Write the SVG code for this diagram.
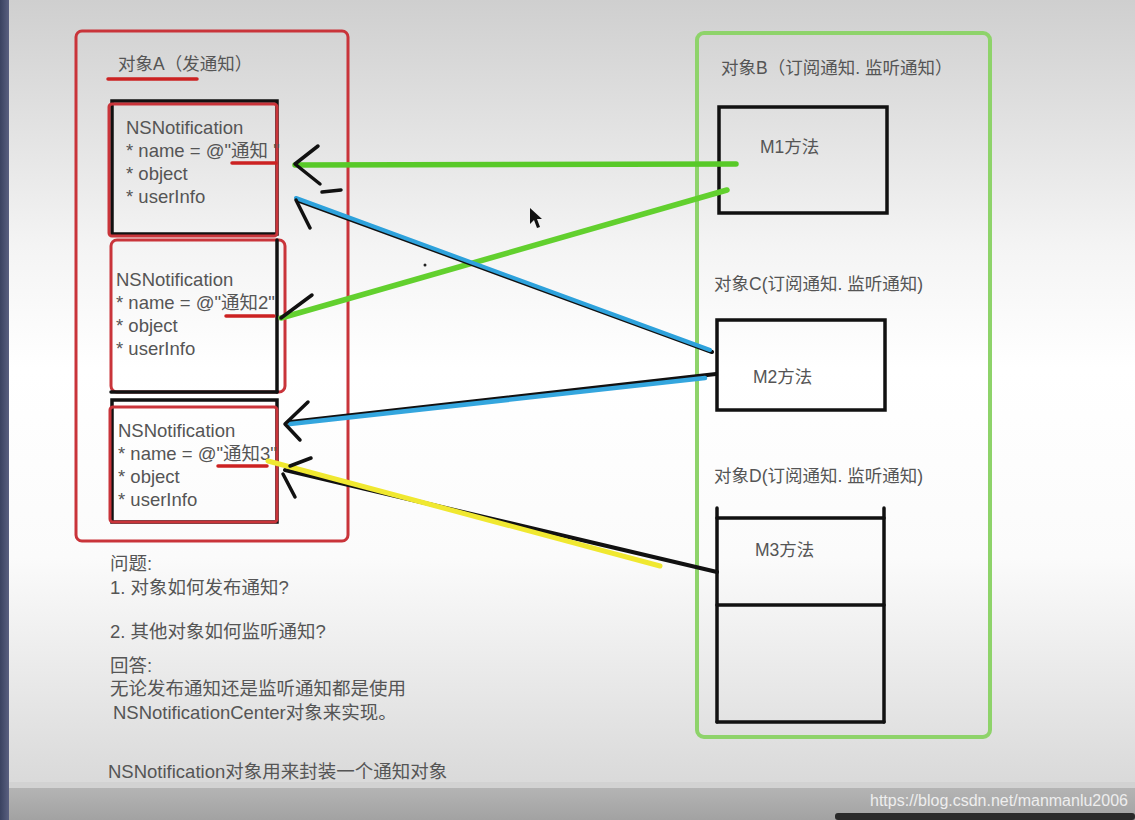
<svg xmlns="http://www.w3.org/2000/svg" width="1135" height="820" viewBox="0 0 1135 820">
<defs>
<linearGradient id="bg" x1="0" y1="0" x2="0" y2="1">
<stop offset="0" stop-color="#cfcfcf"/>
<stop offset="0.3" stop-color="#f4f4f4"/>
<stop offset="0.45" stop-color="#ffffff"/>
<stop offset="0.68" stop-color="#fbfbfb"/>
<stop offset="1" stop-color="#d4d4d4"/>
</linearGradient>
<linearGradient id="bar" x1="0" y1="0" x2="0" y2="1">
<stop offset="0" stop-color="#b4b4b4"/>
<stop offset="1" stop-color="#a2a2a2"/>
</linearGradient>
<linearGradient id="edge" x1="0" y1="0" x2="1" y2="0">
<stop offset="0" stop-color="#3a4260"/>
<stop offset="1" stop-color="#5a6080"/>
</linearGradient>
</defs>
<style>
.t{font-family:"Liberation Sans","Noto Sans CJK SC",sans-serif;fill:#555555;font-size:18.5px}
.tt{font-family:"Liberation Sans","Noto Sans CJK SC",sans-serif;fill:#555555;font-size:17.5px}
.red{fill:none;stroke:#c9343a;stroke-width:3}
.blk{fill:none;stroke:#111;stroke-width:3.5;stroke-linecap:round}
.ul{stroke:#cc2222;stroke-width:3.5;stroke-linecap:round}
.head{fill:none;stroke:#111;stroke-width:3.5;stroke-linecap:round;stroke-linejoin:round}
</style>
<rect x="0" y="0" width="1135" height="820" fill="url(#bg)"/>
<rect x="0" y="0" width="9" height="820" fill="url(#edge)"/>

<g id="objectA">
<rect x="76" y="31" width="272" height="510" rx="6" class="red"/>
<text class="tt" x="118" y="70">对象A（发通知）</text>
<line x1="108" y1="79" x2="197" y2="79" class="ul" stroke-width="4"/>
</g>

<g id="notification1">
<rect x="112" y="101" width="165" height="133" class="blk" stroke-linecap="butt"/>
<rect x="109" y="104" width="168" height="132" rx="3" class="red" stroke-width="2"/>
<text class="t" x="126" y="134">NSNotification</text>
<text class="t" x="126" y="157">* name = @"通知 "</text>
<text class="t" x="126" y="180">* object</text>
<text class="t" x="126" y="203">* userInfo</text>
<line x1="232" y1="163" x2="276" y2="163" class="ul"/>
</g>

<g id="notification2">
<rect x="111" y="240" width="174" height="152" rx="6" class="red" stroke-width="2.5"/>
<line x1="277" y1="240" x2="277" y2="392" class="blk" stroke-linecap="butt"/>
<line x1="111" y1="392" x2="277" y2="392" class="blk" stroke-width="2" stroke-linecap="butt"/>
<text class="t" x="116" y="286">NSNotification</text>
<text class="t" x="116" y="309">* name = @"通知2"</text>
<text class="t" x="116" y="332">* object</text>
<text class="t" x="116" y="355">* userInfo</text>
<line x1="226" y1="316" x2="274" y2="316" class="ul"/>
</g>

<g id="notification3">
<rect x="112" y="400" width="165" height="122" class="blk" stroke-linecap="butt"/>
<rect x="110" y="407" width="167" height="115" rx="3" class="red" stroke-width="2"/>
<text class="t" x="118" y="437">NSNotification</text>
<text class="t" x="118" y="460">* name = @"通知3"</text>
<text class="t" x="118" y="483">* object</text>
<text class="t" x="118" y="506">* userInfo</text>
<line x1="218" y1="466" x2="267" y2="466" class="ul"/>
</g>

<g id="objectB">
<rect x="697" y="33" width="293" height="704" rx="7" fill="none" stroke="#8ed36a" stroke-width="4"/>
<text class="tt" x="721" y="74" font-size="18">对象B（订阅通知. 监听通知）</text>
</g>

<g id="m1">
<rect x="719" y="107" width="168" height="106" class="blk" stroke-width="3"/>
<text class="tt" x="760" y="153">M1方法</text>
</g>

<g id="objectC">
<text class="tt" x="714" y="290" font-size="18">对象C(订阅通知. 监听通知)</text>
</g>

<g id="m2">
<rect x="717" y="320" width="168" height="90" class="blk" stroke-width="3"/>
<text class="tt" x="753" y="383">M2方法</text>
</g>

<g id="objectD">
<text class="tt" x="714" y="482" font-size="18">对象D(订阅通知. 监听通知)</text>
</g>

<g id="m3">
<line x1="717" y1="508" x2="717" y2="722" class="blk" stroke-width="3"/>
<line x1="884" y1="508" x2="884" y2="722" class="blk" stroke-width="3"/>
<line x1="717" y1="518" x2="884" y2="518" class="blk" stroke-width="3"/>
<line x1="717" y1="605" x2="884" y2="605" class="blk" stroke-width="3"/>
<line x1="717" y1="722" x2="884" y2="722" class="blk" stroke-width="3"/>
<text class="tt" x="755" y="556">M3方法</text>
</g>

<g id="connectors">
<line x1="736" y1="164" x2="295" y2="165" stroke="#58c928" stroke-width="5.5" stroke-linecap="round"/>
<polyline points="318,146 295,164 320,184" class="head"/>
<line x1="727" y1="190" x2="281" y2="318" stroke="#62d02e" stroke-width="5.5" stroke-linecap="round"/>
<polyline points="312,295 281,318" class="head"/>
<line x1="712" y1="352" x2="297" y2="200" stroke="#111" stroke-width="4" stroke-linecap="round"/>
<line x1="710" y1="350" x2="296" y2="198" stroke="#2ea2dc" stroke-width="4" stroke-linecap="round"/>
<polyline points="341,190 322,192" class="head"/>
<polyline points="296,200 310,228" class="head"/>
<line x1="716" y1="374" x2="290" y2="422" stroke="#111" stroke-width="4" stroke-linecap="round"/>
<line x1="705" y1="378" x2="290" y2="424" stroke="#34a6de" stroke-width="4.5" stroke-linecap="round"/>
<polyline points="308,402 285,424 300,440" class="head"/>
<line x1="717" y1="572" x2="285" y2="470" stroke="#111" stroke-width="4" stroke-linecap="round"/>
<line x1="660" y1="566" x2="268" y2="461" stroke="#f0e830" stroke-width="5" stroke-linecap="round"/>
<polyline points="311,458 290,466" class="head"/>
<polyline points="283,474 295,497" class="head"/>
</g>

<g id="cursor">
<polygon points="530,208 530,224 534,220 537,228 540,227 537,219 542,219" fill="#111"/>
<circle cx="425" cy="265" r="1.5" fill="#222"/>
</g>

<g id="notes">
<text class="t" x="110" y="570" font-size="16">问题:</text>
<text class="t" x="110" y="594" font-size="16">1. 对象如何发布通知?</text>
<text class="t" x="110" y="638" font-size="16">2. 其他对象如何监听通知?</text>
<text class="t" x="110" y="672" font-size="16">回答:</text>
<text class="t" x="110" y="695" font-size="18">无论发布通知还是监听通知都是使用</text>
<text class="t" x="113" y="719" font-size="18">NSNotificationCenter对象来实现。</text>
<text class="t" x="108" y="778">NSNotification对象用来封装一个通知对象</text>
</g>

<g id="footer">
<rect x="0" y="782" width="1135" height="6" fill="#d2d2d2"/>
<rect x="0" y="788" width="1135" height="32" fill="url(#bar)"/>
<rect x="0" y="782" width="9" height="38" fill="url(#edge)"/>
<rect x="835" y="813" width="300" height="7" rx="3" fill="#2a2a2a"/>
<text x="870" y="806" font-family="Liberation Sans, sans-serif" font-size="16" fill="#eeeeee">https://blog.csdn.net/manmanlu2006</text>
</g>
</svg>
